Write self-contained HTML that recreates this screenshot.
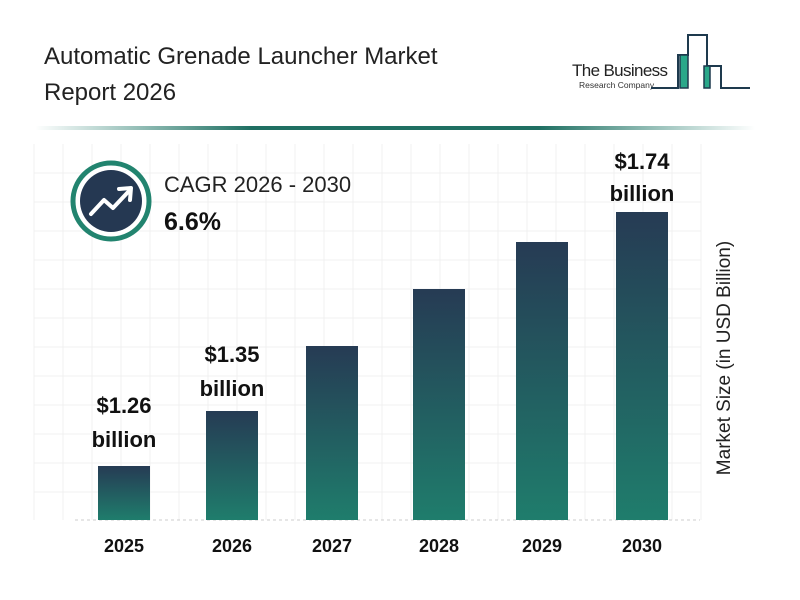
<!DOCTYPE html>
<html><head><meta charset="utf-8"><style>
body{margin:0;background:#fff;}
svg{display:block;font-family:"Liberation Sans",sans-serif;}
</style></head><body>
<svg width="800" height="600" viewBox="0 0 800 600">
<defs>
<linearGradient id="g" x1="0" y1="0" x2="0" y2="1">
<stop offset="0" stop-color="#263b54"/><stop offset="1" stop-color="#1f7d6c"/>
</linearGradient>
<linearGradient id="ln" x1="0" y1="0" x2="1" y2="0">
<stop offset="0" stop-color="#1f7d6c" stop-opacity="0"/><stop offset="0.3" stop-color="#1f6f62"/><stop offset="0.7" stop-color="#1f6f62"/><stop offset="1" stop-color="#1f7d6c" stop-opacity="0"/>
</linearGradient>
</defs>
<text x="44" y="64" font-size="24" fill="#222">Automatic Grenade Launcher Market</text>
<text x="44" y="100" font-size="24" fill="#222">Report 2026</text>
<!-- logo -->
<text x="572" y="76" font-size="17" fill="#222" textLength="96">The Business</text>
<text x="579" y="88" font-size="8.5" fill="#333">Research Company</text>
<g fill="none" stroke="#1e3a4e" stroke-width="2">
<path d="M651 88 H678 V55 H688 V35 H707 V66 H721 V88 H750"/>
</g>
<rect x="680" y="55" width="8" height="33" fill="#2aa88a" stroke="#1e3a4e" stroke-width="1.5"/>
<rect x="704" y="66" width="6" height="22" fill="#2aa88a" stroke="#1e3a4e" stroke-width="1.5"/>
<rect x="35" y="126" width="720" height="4" fill="url(#ln)"/>
<!-- grid -->
<g stroke="#f0f0f0" stroke-width="1">
<path d="M34 144 V520 M63 144 V520 M92 144 V520 M121 144 V520 M150 144 V520 M179 144 V520 M208 144 V520 M237 144 V520 M266 144 V520 M295 144 V520 M324 144 V520 M353 144 V520 M382 144 V520 M411 144 V520 M440 144 V520 M469 144 V520 M498 144 V520 M527 144 V520 M556 144 V520 M585 144 V520 M614 144 V520 M643 144 V520 M672 144 V520 M701 144 V520"/>
<path d="M34 173 H701 M34 202 H701 M34 231 H701 M34 260 H701 M34 289 H701 M34 318 H701 M34 347 H701 M34 376 H701 M34 405 H701 M34 434 H701 M34 463 H701 M34 492 H701"/>
</g>
<line x1="75" y1="520" x2="700" y2="520" stroke="#ccc" stroke-dasharray="3,3"/>
<!-- bars -->
<rect x="98" y="466" width="52" height="54" fill="url(#g)"/>
<rect x="206" y="411" width="52" height="109" fill="url(#g)"/>
<rect x="306" y="346" width="52" height="174" fill="url(#g)"/>
<rect x="413" y="289" width="52" height="231" fill="url(#g)"/>
<rect x="516" y="242" width="52" height="278" fill="url(#g)"/>
<rect x="616" y="212" width="52" height="308" fill="url(#g)"/>
<g font-size="22" font-weight="bold" fill="#111" text-anchor="middle">
<text x="124" y="413">$1.26</text><text x="124" y="447">billion</text>
<text x="232" y="362">$1.35</text><text x="232" y="396">billion</text>
<text x="642" y="169">$1.74</text><text x="642" y="201">billion</text>
</g>
<g font-size="18" font-weight="bold" fill="#111" text-anchor="middle">
<text x="124" y="552">2025</text><text x="232" y="552">2026</text><text x="332" y="552">2027</text>
<text x="439" y="552">2028</text><text x="542" y="552">2029</text><text x="642" y="552">2030</text>
</g>
<text transform="translate(730,358) rotate(-90)" font-size="19" fill="#222" text-anchor="middle">Market Size (in USD Billion)</text>
<!-- CAGR -->
<circle cx="111" cy="201" r="38" fill="#fff" stroke="#22846f" stroke-width="5"/>
<circle cx="111" cy="201" r="31" fill="#253852"/>
<path d="M91 214 L104 200 L113 208 L129 191" fill="none" stroke="#fff" stroke-width="4" stroke-linejoin="round" stroke-linecap="round"/>
<path d="M119 189 L131 188 L130 200" fill="none" stroke="#fff" stroke-width="4" stroke-linejoin="round" stroke-linecap="round"/>
<text x="164" y="192" font-size="22" fill="#222">CAGR 2026 - 2030</text>
<text x="164" y="230" font-size="25" font-weight="bold" fill="#111">6.6%</text>
</svg>
</body></html>
